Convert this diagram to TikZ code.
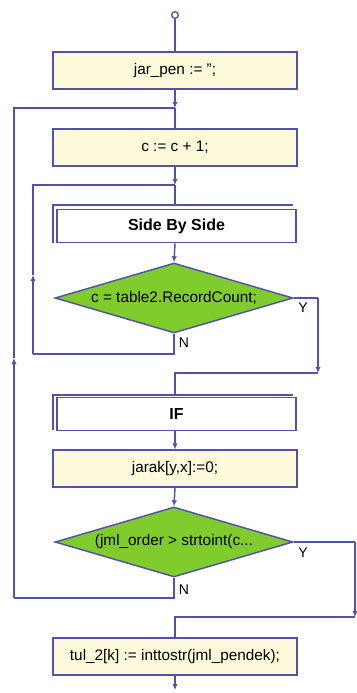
\documentclass[tikz,border=0pt]{standalone}
\usepackage{fontspec}
\setmainfont{Liberation Sans}
\usetikzlibrary{arrows.meta,shapes.geometric}
\definecolor{lineblue}{RGB}{82,82,172}
\definecolor{boxyellow}{RGB}{252,250,218}
\definecolor{dgreen}{RGB}{128,204,44}
\begin{document}
\begin{tikzpicture}[x=0.75pt,y=-0.75pt,
  conn/.style={draw=lineblue,line width=1.1pt},
  tip/.style={conn,-{Latex[length=4.5pt,width=4pt]}},
  stmt/.style={draw=lineblue,line width=1.1pt,fill=boxyellow,rectangle,minimum width=183pt,minimum height=27.5pt,inner sep=0pt,font=\fontsize{11.5}{13}\selectfont},
  sub/.style={draw=lineblue,line width=1.1pt,fill=white,rectangle,minimum width=179pt,minimum height=25pt,inner sep=0pt,font=\fontsize{12}{14}\selectfont\bfseries},
  dec/.style={draw=lineblue,line width=1.1pt,fill=dgreen,diamond,minimum width=178.5pt,minimum height=52.5pt,inner sep=0pt},
  dectext/.style={font=\fontsize{11.5}{13}\selectfont,inner sep=0pt},
  yn/.style={font=\fontsize{10.5}{12}\selectfont,inner sep=0pt}]
\useasboundingbox (0,0) rectangle (357,693);
\fill[white] (0,0) rectangle (357,693);

% nodes
\node[circle,draw=lineblue,line width=1pt,fill=white,minimum size=5pt,inner sep=0pt] (start) at (175,15) {};
\node[stmt] (b1) at (175,70.5) {jar\_pen := \char"0027\char"0027;};
\node[stmt] (b2) at (175,147.5) {c := c + 1;};
\node[sub] (b3) at (176.5,226) {Side By Side};
\draw[conn] (53,243) -- (53,205) -- (293,205);
\node[dec] (d1) at (174,298) {};
\node[dectext] (d1t) at (d1) {c = table2.RecordCount;};
\node[yn] (y1) at (303,308) {Y};
\node[yn] (n1) at (184,343) {N};
\node[sub] (b4) at (176.5,414) {IF};
\draw[conn] (53,430) -- (53,395) -- (293,395);
\node[stmt] (b5) at (175,468.5) {jarak[y,x]:=0;};
\node[dec] (d2) at (174,542) {};
\node[dectext] (d2t) at (d2) {(jml\_order > strtoint(c...};
\node[yn] (y2) at (303,553) {Y};
\node[yn] (n2) at (184,590) {N};
\node[stmt] (b6) at (175,656.5) {tul\_2[k] := inttostr(jml\_pendek);};

% coordinates
\coordinate (j1) at (175,108);
\coordinate (j2) at (175,185);
\coordinate (j3) at (175,373);
\coordinate (j4) at (175,617);
\coordinate (endp) at (175,690);
\coordinate (r1a) at (318,298);
\coordinate (r1b) at (318,373);
\coordinate (r2a) at (355,542);
\coordinate (r2b) at (355,617);
\coordinate (l1a) at (174,354);
\coordinate (l1b) at (33,354);
\coordinate (l1m) at (33,275);
\coordinate (l1c) at (33,185);
\coordinate (l2a) at (174,598);
\coordinate (l2b) at (14,598);
\coordinate (l2m) at (14,358);
\coordinate (l2c) at (14,108);

% main flow
\draw[conn] (start) -- (b1.north);
\draw[tip] (b1.south) -- (j1);
\draw[conn] (j1) -- (b2.north);
\draw[tip] (b2.south) -- (j2);
\draw[conn] (j2) -- (175,205);
\draw[tip] (b3.south -| 175,0) -- (d1.north);
\draw[conn] (d1.east) -- (r1a);
\draw[tip] (r1a) -- (r1b);
\draw[conn] (r1b) -- (j3) -- (175,395);
\draw[tip] (b4.south -| 175,0) -- (b5.north);
\draw[tip] (b5.south) -- (d2.north);
\draw[conn] (d2.east) -- (r2a);
\draw[tip] (r2a) -- (r2b);
\draw[conn] (r2b) -- (j4) -- (b6.north);
\draw[tip] (b6.south) -- (endp);

% loops
\draw[conn] (d1.south) -- (l1a) -- (l1b);
\draw[tip] (l1b) -- (l1m);
\draw[conn] (l1m) -- (l1c) -- (j2);
\draw[conn] (d2.south) -- (l2a) -- (l2b);
\draw[tip] (l2b) -- (l2m);
\draw[conn] (l2m) -- (l2c) -- (j1);
\end{tikzpicture}
\end{document}
